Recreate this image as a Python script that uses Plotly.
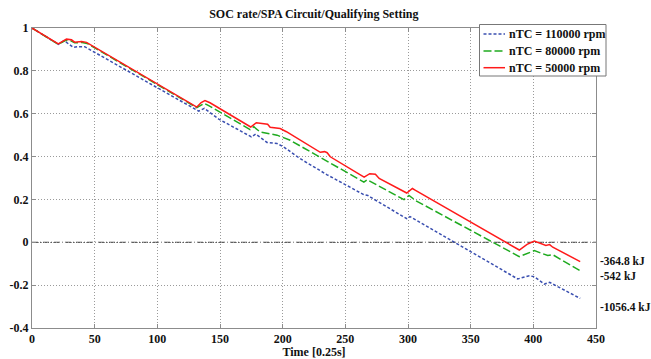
import plotly.graph_objects as go

# ---- data ----
x_red = [0, 21, 27.5, 31.5, 34, 39.5, 43.5, 131.5, 135, 138, 142, 174.5, 179, 184, 188, 190, 198, 203,
         230, 233.5, 235.5, 238, 265, 269.5, 274, 277, 299, 303.5, 306, 388.8, 395, 400.8, 405, 410,
         413, 415.5, 437.4]
y_red = [1.0, 0.926, 0.948, 0.945, 0.934, 0.937, 0.933, 0.631, 0.652, 0.661, 0.651, 0.538, 0.558, 0.556,
         0.551, 0.537, 0.531, 0.516, 0.42, 0.423, 0.418, 0.399, 0.304, 0.32, 0.318, 0.298, 0.23, 0.251,
         0.242, -0.036, -0.01, 0.006, -0.004, -0.015, -0.011, -0.023, -0.09]

x_green = [0, 21, 27, 31, 34, 40, 44, 131.5, 137.5, 141, 174, 177, 182, 195.5, 206, 235.5, 264.8, 267.5,
           296.8, 300.8, 306, 388.8, 400.8, 411.5, 415.5, 437.4]
y_green = [1.0, 0.924, 0.942, 0.94, 0.931, 0.932, 0.928, 0.628, 0.648, 0.638, 0.526, 0.539, 0.515, 0.5,
           0.476, 0.378, 0.281, 0.292, 0.199, 0.219, 0.195, -0.067, -0.039, -0.062, -0.058, -0.133]

x_blue = [0, 21, 25.6, 32.8, 36.8, 42, 133, 137.5, 149, 175, 178.5, 187.5, 195.5, 200.8, 214, 235.5,
          264.8, 268, 270, 299, 301.6, 387.5, 396.8, 400.8, 408.8, 413, 437.4]
y_blue = [1.0, 0.924, 0.941, 0.91, 0.913, 0.913, 0.612, 0.625, 0.575, 0.492, 0.505, 0.466, 0.461, 0.445,
          0.39, 0.315, 0.222, 0.218, 0.211, 0.11, 0.12, -0.171, -0.156, -0.161, -0.195, -0.187, -0.262]

series_names = ["nTC = 110000 rpm", "nTC = 80000 rpm", "nTC = 50000 rpm"]
energy_labels = ["-364.8 kJ", "-542 kJ", "-1056.4 kJ"]
energy_label_y = [-0.086, -0.159, -0.301]

x_ticks = [0, 50, 100, 150, 200, 250, 300, 350, 400, 450]
y_ticks = [-0.4, -0.2, 0, 0.2, 0.4, 0.6, 0.8, 1]
y_ticktext = ["-0.4", "-0.2", "0", "0.2", "0.4", "0.6", "0.8", "1"]

FONT = "Liberation Serif, Times New Roman, serif"
TXT = "#111111"

colors = ["#3a4fb0", "#1faa1f", "#ff1a1a"]
dashes = ["3px,2px", "8px,3px", "solid"]
xs = [x_blue, x_green, x_red]
ys = [y_blue, y_green, y_red]

# plot-area geometry in pixels (for the hand-made legend box)
L, R, T, B = 32, 596, 28, 328
def px_x(p):
    return (p - L) / (R - L)
def px_y(p):
    return (B - p) / (B - T)

fig = go.Figure()
for name, xv, yv, c, d in zip(series_names, xs, ys, colors, dashes):
    fig.add_trace(go.Scatter(x=xv, y=yv, mode="lines", name=name, showlegend=False,
                             line=dict(color=c, width=1.5, dash=d)))

# zero reference line (dash-dot)
fig.add_shape(type="line", xref="paper", x0=0, x1=1, yref="y", y0=0, y1=0,
              line=dict(color="#333333", width=1, dash="6px,2px,1px,2px"), layer="below")

for txt, yy in zip(energy_labels, energy_label_y):
    fig.add_annotation(text=txt, xref="paper", x=px_x(598), xanchor="left", yref="y", y=yy,
                       yanchor="middle", showarrow=False,
                       font=dict(family=FONT, size=11.5, color=TXT, weight="bold"))

# legend box drawn to match the reference's compact legend
fig.add_shape(type="rect", xref="paper", yref="paper",
              x0=px_x(479.5), x1=px_x(606), y0=px_y(24.5), y1=px_y(76),
              line=dict(color="#777777", width=1), fillcolor="white", layer="above")
row_y = [34, 51, 67.7]
for name, c, d, ry in zip(series_names, colors, dashes, row_y):
    fig.add_shape(type="line", xref="paper", yref="paper",
                  x0=px_x(483.5), x1=px_x(505), y0=px_y(ry), y1=px_y(ry),
                  line=dict(color=c, width=1.5, dash=d), layer="above")
    fig.add_annotation(text=name, xref="paper", yref="paper", x=px_x(507), y=px_y(ry),
                       xanchor="left", yanchor="middle", showarrow=False,
                       font=dict(family=FONT, size=12, color=TXT, weight="bold"))

axis_common = dict(showline=True, linecolor="#8c8c8c", linewidth=1, mirror="ticks",
                   ticks="inside", ticklen=4, tickcolor="#8c8c8c",
                   showgrid=True, gridcolor="#9a9a9a", gridwidth=1, griddash="1px,2px",
                   zeroline=False, automargin=False,
                   tickfont=dict(family=FONT, size=12, color=TXT, weight="bold"))

fig.update_xaxes(range=[0, 450], tickvals=x_ticks,
                 title=dict(text="Time [0.25s]", standoff=0,
                            font=dict(family=FONT, size=12, color=TXT, weight="bold")),
                 **axis_common)
fig.update_yaxes(range=[-0.4, 1], tickvals=y_ticks, ticktext=y_ticktext, **axis_common)

fig.update_layout(
    width=651, height=359,
    margin=dict(l=L, r=651 - R, t=T, b=359 - B),
    paper_bgcolor="white", plot_bgcolor="white",
    title=dict(text="SOC rate/SPA Circuit/Qualifying Setting", x=0.482, xanchor="center",
               y=0.962, yanchor="middle",
               font=dict(family=FONT, size=12, color=TXT, weight="bold")),
    showlegend=False,
)

fig.write_html("out.html")
